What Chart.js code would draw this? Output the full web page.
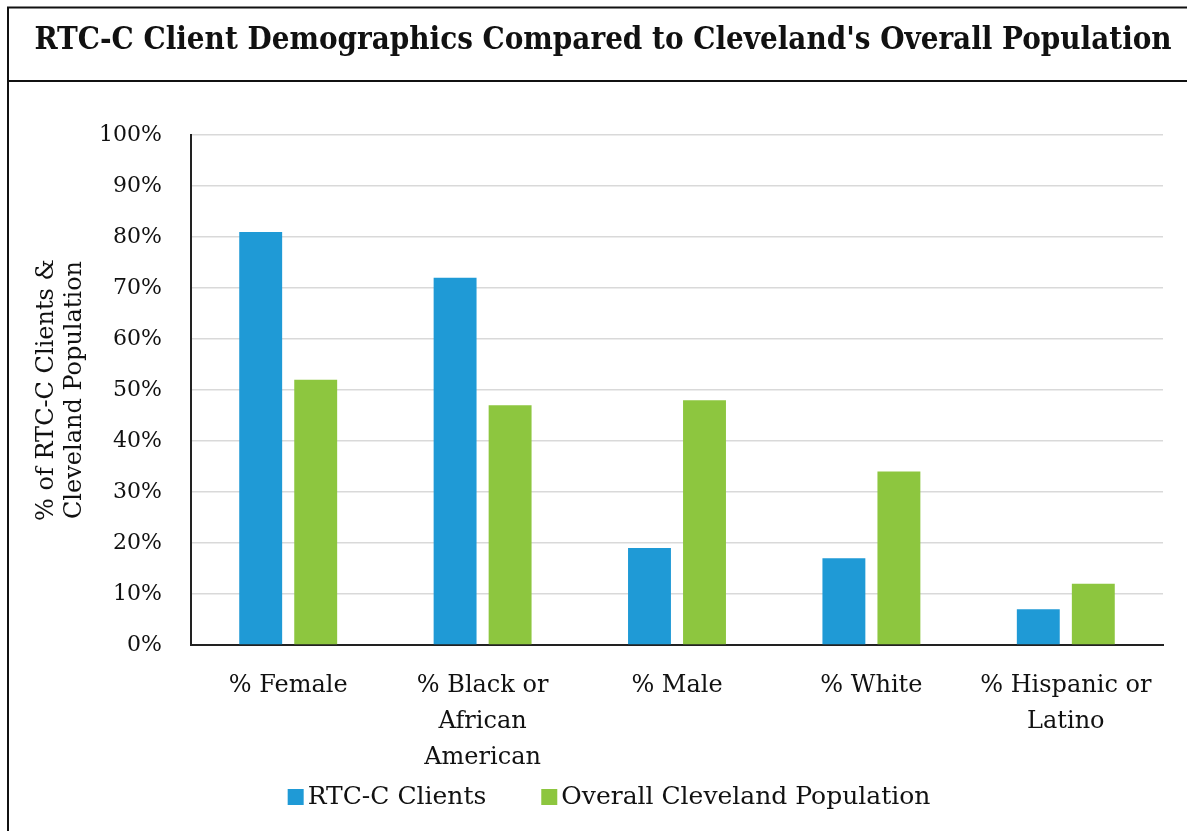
<!DOCTYPE html>
<html><head><meta charset="utf-8">
<script src="https://cdn.jsdelivr.net/npm/chart.js@4/dist/chart.umd.min.js"></script>
<style>html,body{margin:0;padding:0;background:#fff;overflow:hidden}</style>
</head><body>
<canvas id="c" width="1187" height="831"></canvas>
<script>
const chartTitle = "RTC-C Client Demographics Compared to Cleveland's Overall Population";
const categories = [['% Female'], ['% Black or', 'African', 'American'], ['% Male'], ['% White'], ['% Hispanic or', 'Latino']];
const seriesNames = ['RTC-C Clients', 'Overall Cleveland Population'];
const rtcClients = [81, 72, 19, 17, 7];
const clevelandPopulation = [52, 47, 48, 34, 12];
const yAxisTitle = ['% of RTC-C Clients &', 'Cleveland Population'];
const yMin = 0, yMax = 100, yStep = 10;

const serif = "'DejaVu Serif', serif";

// Frame, title and legend drawn around the chart
const frame = {
  id: 'frame',
  beforeDraw(chart) {
    const c = chart.ctx;
    c.save();
    c.fillStyle = '#fff';
    c.fillRect(0, 0, chart.width, chart.height);
    c.strokeStyle = '#111';
    c.lineWidth = 2;
    c.beginPath();
    c.moveTo(8, chart.height);
    c.lineTo(8, 7.5);
    c.lineTo(chart.width, 7.5);
    c.moveTo(8, 81);
    c.lineTo(chart.width, 81);
    c.stroke();
    c.restore();
  },
  afterDraw(chart) {
    const c = chart.ctx;
    c.save();
    // title
    c.fillStyle = '#111';
    c.font = "bold 31px 'DejaVu Serif Condensed', 'DejaVu Serif', serif";
    c.textAlign = 'center';
    c.textBaseline = 'middle';
    c.fillText(chartTitle, 603, 41);
    // legend
    c.font = "25px " + serif;
    c.textAlign = 'left';
    const box = 16, gapText = 4, gapItem = 55;
    const items = chart.data.datasets.map(d => ({ label: d.label, color: d.backgroundColor, w: c.measureText(d.label).width }));
    let total = 0;
    items.forEach((it, i) => { total += box + gapText + it.w + (i ? gapItem : 0); });
    let x = 609 - total / 2;
    const y = 797;
    items.forEach(it => {
      c.fillStyle = it.color;
      c.fillRect(x, y - box / 2, box, box);
      c.fillStyle = '#111';
      c.fillText(it.label, x + box + gapText, y);
      x += box + gapText + it.w + gapItem;
    });
    c.restore();
  }
};

new Chart(document.getElementById('c'), {
  type: 'bar',
  data: {
    labels: categories,
    datasets: [
      { label: seriesNames[0], data: rtcClients, backgroundColor: '#1f9ad6' },
      { label: seriesNames[1], data: clevelandPopulation, backgroundColor: '#8dc63f' }
    ]
  },
  options: {
    responsive: false,
    animation: false,
    categoryPercentage: 0.566,
    barPercentage: 0.78,
    layout: { padding: { left: 0, right: 24, top: 135, bottom: 56 } },
    plugins: {
      title: { display: false },
      legend: { display: false },
      tooltip: { enabled: false }
    },
    scales: {
      x: {
        grid: { display: false },
        border: { color: '#222', width: 2 },
        ticks: {
          color: '#111',
          font: { family: serif, size: 24, lineHeight: 1.5 },
          padding: 15,
          maxRotation: 0, autoSkip: false
        },
        afterFit(s) { s.height = 130; }
      },
      y: {
        min: yMin, max: yMax,
        grid: { color: '#d9d9d9', lineWidth: 1.5, drawTicks: false },
        border: { color: '#222', width: 2 },
        ticks: {
          stepSize: yStep,
          color: '#111',
          font: { family: serif, size: 22 },
          padding: 29,
          callback: v => v + '%'
        },
        title: {
          display: true,
          text: yAxisTitle,
          color: '#111',
          font: { family: serif, size: 24, lineHeight: 1.2 },
          padding: { top: 32, bottom: 0 }
        },
        afterFit(s) { s.width = 191; }
      }
    }
  },
  plugins: [frame]
});
</script>
</body></html>
